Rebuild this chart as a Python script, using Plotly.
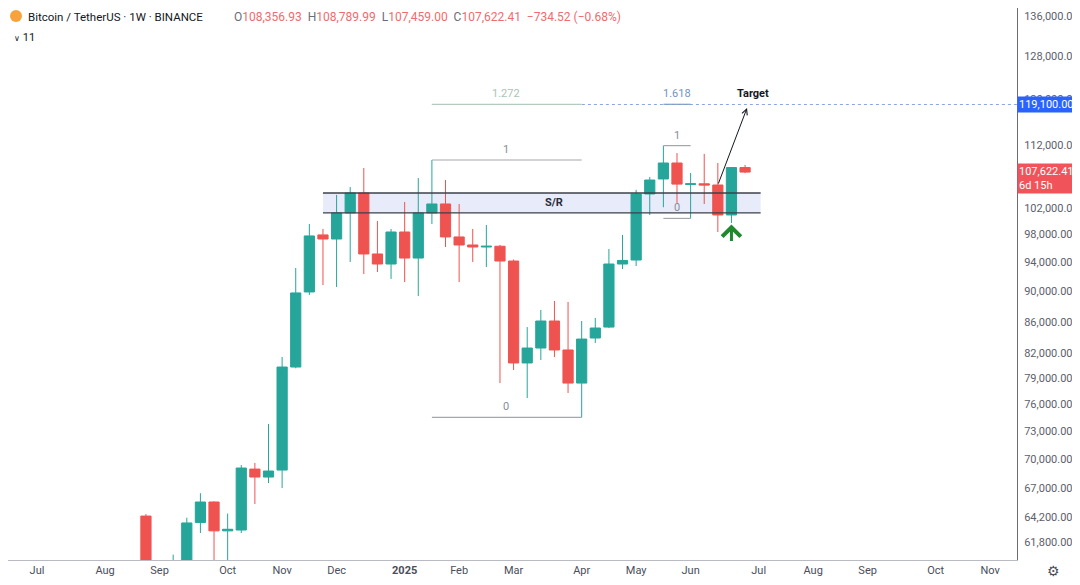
import math
import plotly.graph_objects as go

# ---------------- data (weekly candles, BTC/USDT) ----------------
week_start = [
    "2024-08-26", "2024-09-02", "2024-09-09", "2024-09-16", "2024-09-23", "2024-09-30",
    "2024-10-07", "2024-10-14", "2024-10-21", "2024-10-28", "2024-11-04", "2024-11-11",
    "2024-11-18", "2024-11-25", "2024-12-02", "2024-12-09", "2024-12-16", "2024-12-23",
    "2024-12-30", "2025-01-06", "2025-01-13", "2025-01-20", "2025-01-27", "2025-02-03",
    "2025-02-10", "2025-02-17", "2025-02-24", "2025-03-03", "2025-03-10", "2025-03-17",
    "2025-03-24", "2025-03-31", "2025-04-07", "2025-04-14", "2025-04-21", "2025-04-28",
    "2025-05-05", "2025-05-12", "2025-05-19", "2025-05-26", "2025-06-02", "2025-06-09",
    "2025-06-16", "2025-06-23", "2025-06-30",
]
opens = [
    64260, 57300, 54850, 59130, 63650, 65630,
    62850, 62930, 68950, 68130, 68850, 80350,
    89920, 97950, 97350, 101230, 104300, 95190,
    93770, 98380, 94610, 101230, 102600, 97650,
    96480, 96190, 96300, 94190, 80840, 82670,
    86090, 82430, 78440, 83920, 85310, 93770,
    94330, 104150, 106520, 109100, 105650, 105750,
    105560, 100920, 108356.93,
]
highs = [
    64450, 59800, 60650, 64100, 66500, 65700,
    64500, 69370, 69580, 73770, 81570, 93210,
    99570, 98830, 104000, 105240, 108290, 100010,
    98830, 102900, 106670, 109590, 106350, 102600,
    98830, 99410, 96500, 94400, 85310, 87520,
    88710, 88580, 86090, 86480, 95910, 97950,
    104800, 106840, 111980, 110740, 107470, 110600,
    109100, 108400, 108789.99,
]
lows = [
    57200, 52550, 54600, 57500, 62650, 59850,
    58900, 62650, 65430, 67520, 67020, 80200,
    89510, 90860, 90590, 94060, 92370, 92650,
    91690, 91270, 89380, 99570, 96190, 91270,
    94060, 93350, 78440, 79990, 76700, 81200,
    81570, 77280, 74500, 83300, 85190, 93070,
    93490, 100920, 102100, 102750, 100400, 102600,
    98380, 99720, 107459.00,
]
closes = [
    57300, 54850, 59130, 63600, 65630, 62850,
    63000, 69060, 68130, 68750, 80350, 89790,
    97800, 97350, 101230, 104300, 95190, 93770,
    98380, 94610, 101230, 102600, 97650, 96480,
    96190, 96300, 94190, 80840, 82670, 86090,
    82430, 78440, 83790, 85190, 93770, 94270,
    104150, 106350, 109100, 105700, 105750, 105550,
    100920, 108356.93, 107622.41,
]

# axis ticks
price_ticks = [136000, 128000, 120000, 112000, 102000, 98000, 94000, 90000, 86000,
               82000, 79000, 76000, 73000, 70000, 67000, 64200, 61800]
month_ticks = ["2024-07-01", "2024-08-05", "2024-09-02", "2024-10-07", "2024-11-04",
               "2024-12-02", "2025-01-06", "2025-02-03", "2025-03-03", "2025-04-07",
               "2025-05-05", "2025-06-02", "2025-07-07", "2025-08-04", "2025-09-01",
               "2025-10-06", "2025-11-03"]
month_labels = ["Jul", "Aug", "Sep", "Oct", "Nov", "Dec", "<b>2025</b>", "Feb", "Mar", "Apr",
                "May", "Jun", "Jul", "Aug", "Sep", "Oct", "Nov"]

# drawings
sr_top, sr_bottom = 104300, 101230
sr_start, sr_end = "2024-11-25", "2025-07-08"
fib_a_0, fib_a_1 = 74500, 109590          # Apr-7 low / Jan-20 high
fib_a_start, fib_a_end, fib_a_mid = "2025-01-20", "2025-04-07", "2025-02-27"
fib_b_0, fib_b_1 = 100400, 111980         # Jun-2 low / May-19 high
fib_b_start, fib_b_end, fib_b_mid = "2025-05-19", "2025-06-02", "2025-05-26"
fib_a_ext = fib_a_0 + 1.272 * (fib_a_1 - fib_a_0)
fib_b_ext = fib_b_0 + 1.618 * (fib_b_1 - fib_b_0)
target_price = 119100
last_price = 107622.41
header_title = "Bitcoin / TetherUS · 1W · BINANCE"
ohlc_header = [("O", "108,356.93"), ("H", "108,789.99"), ("L", "107,459.00"), ("C", "107,622.41")]
change_text = "−734.52 (−0.68%)"

GREEN = "#26a69a"
RED = "#ef5350"
FONT = "Roboto, 'Noto Sans', sans-serif"
lg = math.log10

# page offset (browser body margin) and figure size
OFF = 8
W, H = 1080 - OFF, 585 - OFF
MR, MB = 63, 25
PW, PH = W - MR, H - MB


def pxx(x):  # page pixel x -> paper
    return (x - OFF) / PW


def pxy(y):  # page pixel y -> paper
    return 1 - (y - OFF) / PH


fig = go.Figure()
fig.add_trace(go.Candlestick(
    x=week_start, open=opens, high=highs, low=lows, close=closes,
    increasing=dict(line=dict(color=GREEN, width=1), fillcolor=GREEN),
    decreasing=dict(line=dict(color=RED, width=1), fillcolor=RED),
    whiskerwidth=0, hoverinfo="skip", showlegend=False,
))

shapes = []
# S/R zone
shapes.append(dict(type="rect", xref="x", yref="y", x0=sr_start, x1=sr_end, y0=sr_bottom, y1=sr_top,
                   fillcolor="rgba(120,145,225,0.18)", line=dict(width=0), layer="below"))
for p in (sr_top, sr_bottom):
    shapes.append(dict(type="line", xref="x", yref="y", x0=sr_start, x1=sr_end, y0=p, y1=p,
                       line=dict(color="#3d404a", width=1.3)))
# target dotted line
shapes.append(dict(type="line", xref="x", yref="y", x0=fib_a_start, x1="2025-11-17", y0=target_price,
                   y1=target_price, line=dict(color="#8aa6e6", width=1, dash="dot")))
# fib A
for p, c in ((fib_a_1, "#a3a6ae"), (fib_a_0, "#a3a6ae"), (fib_a_ext, "#b5c9bd")):
    shapes.append(dict(type="line", xref="x", yref="y", x0=fib_a_start, x1=fib_a_end, y0=p, y1=p,
                       line=dict(color=c, width=1.2)))
# fib B
for p, c in ((fib_b_1, "#a3a6ae"), (fib_b_0, "#a3a6ae"), (fib_b_ext, "#7d9cc6")):
    shapes.append(dict(type="line", xref="x", yref="y", x0=fib_b_start, x1=fib_b_end, y0=p, y1=p,
                       line=dict(color=c, width=1.2)))
# logo
shapes.append(dict(type="circle", xref="paper", yref="paper", x0=pxx(10), x1=pxx(22),
                   y0=pxy(22), y1=pxy(10), fillcolor="#f7a23b", line=dict(width=0)))

ann = []


def label(text, x, y, color, size=11, bold=False, yanchor="bottom", yshift=2):
    ann.append(dict(text=f"<b>{text}</b>" if bold else text, x=x, y=lg(y), xref="x", yref="y",
                    showarrow=False, font=dict(color=color, size=size, family=FONT),
                    xanchor="center", yanchor=yanchor, yshift=yshift))


label("1", fib_a_mid, fib_a_1, "#8a8d96")
label("0", fib_a_mid, fib_a_0, "#8a8d96")
label("1.272", fib_a_mid, fib_a_ext, "#a9c4b4")
label("1", fib_b_mid, fib_b_1, "#8a8d96")
label("0", fib_b_mid, fib_b_0, "#8a8d96")
label("1.618", fib_b_mid, fib_b_ext, "#6f95c4")
label("S/R", "2025-03-24", math.sqrt(sr_top * sr_bottom), "#2a2e39", bold=True, yanchor="middle", yshift=0)
label("Target", "2025-07-04", target_price, "#131722", bold=True, yshift=3)

# arrow to target
ann.append(dict(x="2025-07-01", y=lg(118480), ax="2025-06-16", ay=lg(105560), xref="x", yref="y",
                axref="x", ayref="y", showarrow=True, arrowhead=5, arrowsize=1.1, arrowwidth=1,
                arrowcolor="#131722", text=""))
# green arrow under the last closed candle
ann.append(dict(x="2025-06-23", y=lg(99500), xref="x", yref="y", ax=0, ay=18, showarrow=True,
                arrowhead=4, arrowsize=1.2, arrowwidth=3, arrowcolor="#1f8a2c", text=""))

# price labels on axis
ann.append(dict(text="119,100.00", xref="paper", x=1, xanchor="left", yref="y", y=lg(target_price),
                yanchor="middle", showarrow=False, bgcolor="#2962ff", width=60, align="left",
                font=dict(color="white", size=11, family=FONT), borderpad=1))
ann.append(dict(text=f"{last_price:,.2f}<br>6d 15h", xref="paper", x=1, xanchor="left", yref="y",
                y=lg(last_price), yanchor="top", yshift=9, showarrow=False, bgcolor="#f0545a",
                width=60, align="left", font=dict(color="white", size=11, family=FONT), borderpad=1))

# header
ohlc = "".join(f"<span style='color:#6a6d78'>{k}</span><span style='color:#ef6b70'>{v}</span>  "
               for k, v in ohlc_header)
ann.append(dict(text=header_title, xref="paper", yref="paper", x=pxx(26), y=pxy(17),
                xanchor="left", yanchor="middle", showarrow=False,
                font=dict(size=11.5, color="#131722", family=FONT)))
ann.append(dict(text=ohlc + f"<span style='color:#ef6b70'>{change_text}</span>",
                xref="paper", yref="paper", x=pxx(232), y=pxy(17), xanchor="left", yanchor="middle",
                showarrow=False, font=dict(size=12, family=FONT)))
ann.append(dict(text="<span style='font-size:8px'>∨</span> 11", xref="paper", yref="paper", x=pxx(12),
                y=pxy(37), xanchor="left", yanchor="middle", showarrow=False,
                font=dict(size=11, color="#131722", family=FONT)))
ann.append(dict(text="⚙", xref="paper", yref="paper", x=pxx(1053), y=pxy(571), xanchor="center",
                yanchor="middle", showarrow=False, font=dict(size=14, color="#4a4e5a")))

fig.update_layout(
    width=W, height=H, margin=dict(l=0, r=MR, t=0, b=MB),
    paper_bgcolor="white", plot_bgcolor="white", showlegend=False,
    boxgap=0.25, boxgroupgap=0,
    shapes=shapes, annotations=ann, font=dict(family=FONT),
    xaxis=dict(type="date", range=["2024-06-16 02:00", "2025-11-16 19:00"], rangeslider=dict(visible=False),
               tickvals=month_ticks, ticktext=month_labels, showgrid=False, zeroline=False,
               showline=True, linecolor="#b8bbc4", linewidth=1, ticks="",
               tickfont=dict(size=11, color="#4a4e5a", family=FONT)),
    yaxis=dict(type="log", side="right", range=[lg(60164), lg(137640)], tickvals=price_ticks,
               tickformat=",.2f", showgrid=False, zeroline=False, showline=True, linecolor="#6a6d78",
               linewidth=1, ticks="", ticklabelstandoff=4,
               tickfont=dict(size=11, color="#5d606b", family=FONT)),
)

fig.write_html("out.html")
